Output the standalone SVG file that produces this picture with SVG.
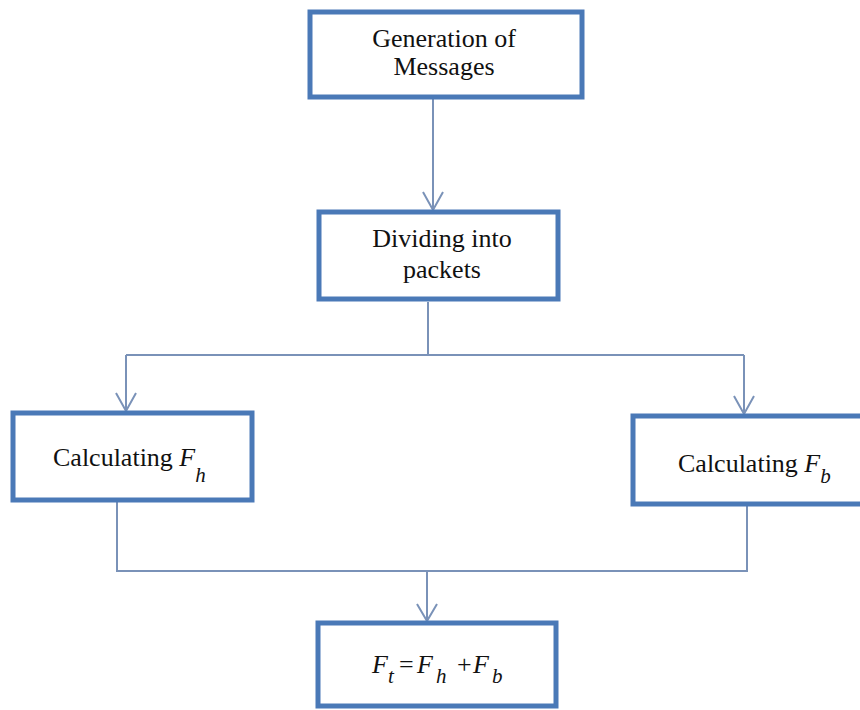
<svg xmlns="http://www.w3.org/2000/svg" width="860" height="710" viewBox="0 0 860 710">
<style>
.box{fill:#fff;stroke:#4a79b7;stroke-width:5}
.t{font-family:"Liberation Serif","Times New Roman",serif;font-size:26px;fill:#111}
.i{font-style:italic}
.s{font-size:21px;font-style:italic}
.c{fill:none;stroke:#7a92b8;stroke-width:2}
</style>
<rect width="860" height="710" fill="#fff"/>
<g id="connectors">
<path class="c" d="M433 99V210M423 192L433 210L443 192"/>
<path class="c" d="M428 302V355M126 355H744M126 355V410M116 393L126 411L136 393M744 355V413M734 396L744 414L754 396"/>
<path class="c" d="M117 502V571H747V506M427 571V621M417 604L427 621L437 604"/>
</g>
<g id="n1">
<rect class="box" x="310" y="12" width="272" height="85"/>
<text class="t" x="444" y="47" text-anchor="middle">Generation of</text>
<text class="t" x="444" y="75" text-anchor="middle">Messages</text>
</g>
<g id="n2">
<rect class="box" x="319" y="212" width="239" height="87"/>
<text class="t" x="442" y="247" text-anchor="middle">Dividing into</text>
<text class="t" x="442" y="278" text-anchor="middle">packets</text>
</g>
<g id="n3">
<rect class="box" x="13" y="413" width="239" height="87"/>
<text class="t" x="53" y="466">Calculating <tspan class="i">F</tspan><tspan class="s" dy="16">h</tspan></text>
</g>
<g id="n4">
<rect class="box" x="633" y="416" width="233" height="88"/>
<text class="t" x="678" y="472">Calculating <tspan class="i">F</tspan><tspan class="s" dy="11">b</tspan></text>
</g>
<g id="n5">
<rect class="box" x="318" y="623" width="238" height="83"/>
<text class="t" y="673"><tspan class="i" x="372">F</tspan><tspan class="s" x="388" dy="10">t</tspan><tspan x="399" dy="-10">=</tspan><tspan class="i" x="417">F</tspan><tspan class="s" x="436" dy="10">h</tspan><tspan x="457" dy="-10">+</tspan><tspan class="i" x="473">F</tspan><tspan class="s" x="492" dy="10">b</tspan></text>
</g>
</svg>
